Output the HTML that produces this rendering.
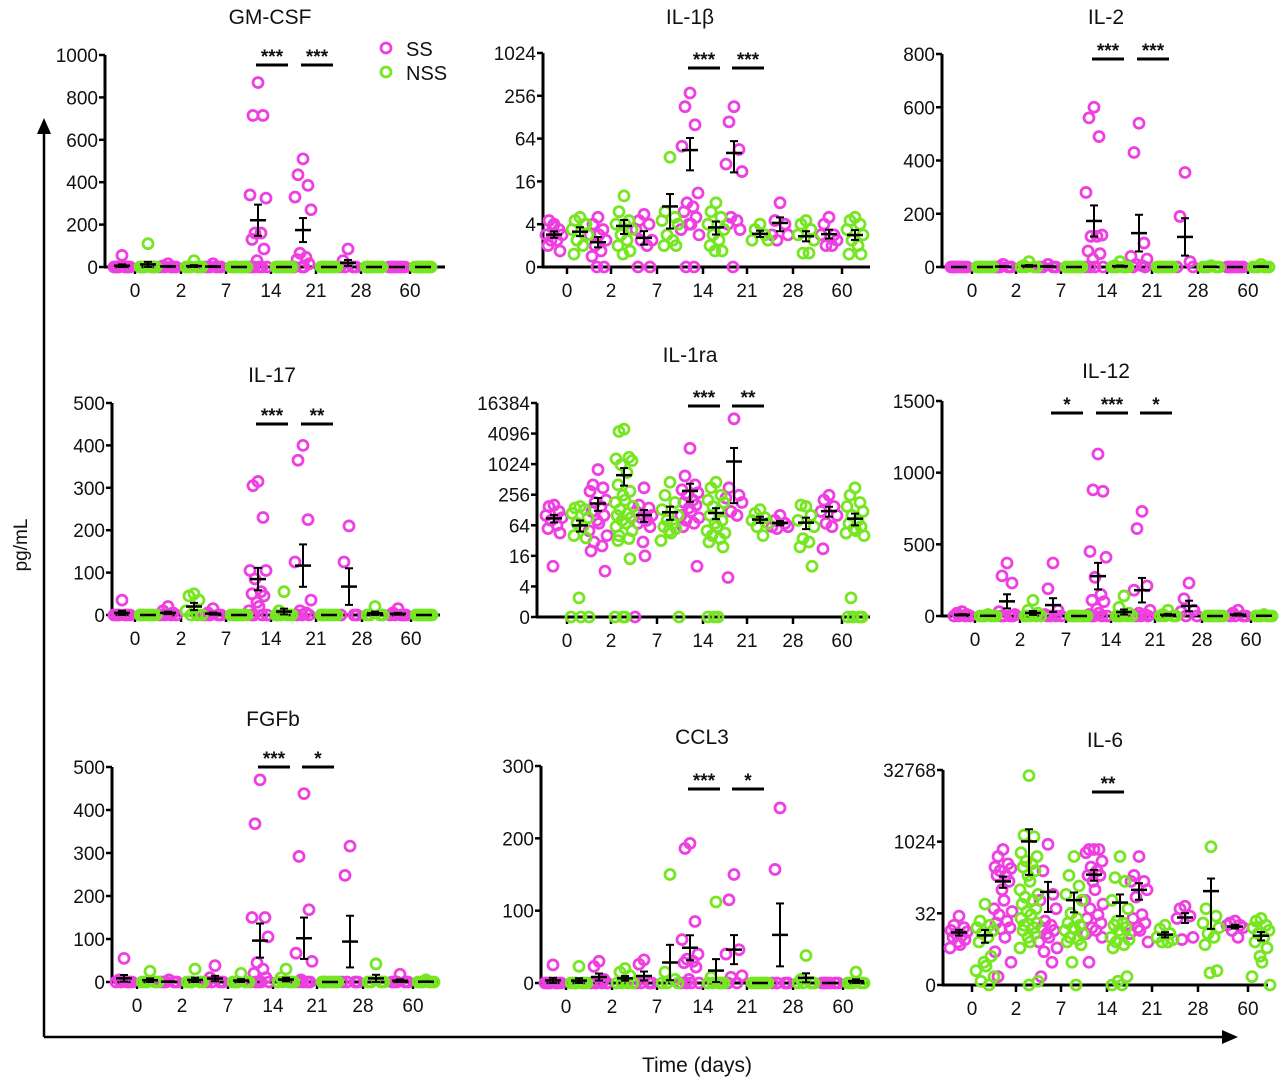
<!DOCTYPE html>
<html><head><meta charset="utf-8"><style>
html,body{margin:0;padding:0;background:#fff;}
svg text{font-family:"Liberation Sans",sans-serif;fill:#111;}
</style></head><body>
<svg id="chart" xmlns="http://www.w3.org/2000/svg" width="1280" height="1085" viewBox="0 0 1280 1085">
<defs><marker id="arr" markerUnits="userSpaceOnUse" markerWidth="16" markerHeight="14" refX="2" refY="7" orient="auto"><path d="M0,0 L16,7 L0,14 z" fill="#000"/></marker></defs>
<line x1="44" y1="1037" x2="44" y2="132" stroke="#000" stroke-width="2.5" marker-end="url(#arr)"/>
<line x1="44" y1="1037" x2="1224" y2="1037" stroke="#000" stroke-width="2.5" marker-end="url(#arr)"/>
<text x="0" y="0" font-size="19" text-anchor="middle" transform="translate(27,545) rotate(-90)">pg/mL</text>
<text x="697" y="1072" font-size="21" text-anchor="middle">Time (days)</text>
<g>
<circle cx="386" cy="48" r="5" fill="none" stroke="#ee3fe0" stroke-width="2.8"/>
<text x="406" y="56" font-size="20">SS</text>
<circle cx="386" cy="72" r="5" fill="none" stroke="#77e622" stroke-width="2.8"/>
<text x="406" y="80" font-size="20">NSS</text>
</g>
</svg>
<script>
const days = ["0","2","7","14","21","28","60"];

const gmcsfSS = [[55,0,0,0,0,0,0,0,0],[15,5,0,0,0,0,0],[15,0,0,0,0,0,0],[870,715,715,340,325,160,160,130,85,30,0,0,0,0,0,0],[510,435,385,330,270,65,45,35,15,0,0,0],[85,30,0,0,0,0],[0,0,0,0,0,0,0,0]];
const gmcsfNSS = [[110,0,0,0,0,0,0,0,0],[30,0,0,0,0,0,0],[0,0,0,0,0,0,0,0],[0,0,0,0,0,0,0,0,0,0],[0,0,0,0,0,0,0,0],[0,0,0,0,0,0,0,0],[0,0,0,0,0,0,0,0,0,0]];
const il1bSS = [[4,4.5,3.5,3,3,2.5,2.5,2,1.5,3.8],[5,4,3.5,3,2.5,2,1.5,1,0,0,3],[5.5,4.5,4,3.5,2.5,2.5,2,0,0],[280,180,100,50,11,8,7,6,5,4,4,3.5,3,0,0],[180,110,45,28,22,5,4.5,4,3.5,0],[8,4.5,4,3,3,2.5],[5,4,3,3,2.5,2,2]];
const il1bNSS = [[5,4.5,4,3.5,3,2.5,2,1.2,4],[10,6,4.5,4,3.5,3,2.5,2,1.5,1.2,4],[35,6,5,4.5,4,3,2.5,2,2],[8,6,5,4,3.5,3,2.5,2,1.5,1.5],[4,3.5,3,2.5,2.5],[4.5,4,3.5,3,2.5,1.3,1.3],[5,4.5,4,3.5,3,2.5,2,1.2,1.2]];
const il2SS = [[0,0,0,0,0,0,0,0],[10,0,0,0,0,0],[10,0,0,0,0],[600,560,490,280,120,115,115,60,50,30,0,0,0,0],[540,430,90,40,30,10,5,0,0],[355,190,20,0,0],[0,0,0,0,0,0,0,0]];
const il2NSS = [[0,0,0,0,0,0,0,0],[20,5,0,0,0,0],[0,0,0,0,0,0,0],[20,5,0,0,0,0,0,0],[0,0,0,0,0,0,0,0],[5,0,0,0,0,0],[10,0,0,0,0,0,0]];
const il17SS = [[35,0,0,0,0,0,0],[20,10,5,0,0,0,0],[15,5,0,0,0,0],[315,305,230,105,105,85,55,50,45,30,20,10,0,0,0,0],[400,365,225,125,35,10,5,0,0,0],[210,125,0,0,0],[15,5,0,0,0,0,0]];
const il17NSS = [[0,0,0,0,0,0,0,0],[50,45,35,10,0,0,0],[0,0,0,0,0,0,0,0],[55,10,0,0,0,0,0,0],[0,0,0,0,0,0,0,0],[20,0,0,0,0],[0,0,0,0,0,0,0,0,0]];
const il1raSS = [[160,150,120,100,90,80,65,55,45,10],[800,400,350,300,200,180,150,120,100,80,70,50,40,30,25,20,8],[350,160,140,120,100,90,80,70,60,30,16,0],[2100,600,400,320,280,250,200,180,160,140,120,100,90,80,70,60,10],[8000,350,250,220,180,120,100,6],[100,80,70,60,60,55],[250,200,150,120,100,70,60,22]];
const il1raNSS = [[150,140,130,110,90,70,60,40,36,2.5,0,0,0],[5000,4500,1400,1300,1200,1000,700,400,300,250,200,180,150,130,110,100,90,80,70,60,50,40,35,32,14,0,0,0],[450,250,180,130,100,80,70,60,55,50,45,32,0],[450,350,250,200,180,150,120,100,80,70,60,50,45,40,35,30,24,0,0,0],[130,110,90,80,70,60,40],[150,160,100,80,60,35,30,24,10],[350,250,180,150,120,100,80,70,60,55,50,45,40,2.5,0,0,0,0]];
const il12SS = [[30,20,10,0,0,0,0],[370,280,230,30,10,0,0,0,0],[370,190,40,10,0,0,0,0],[1130,880,870,450,410,270,150,110,100,50,20,10,0,0,0,0],[730,610,210,180,40,20,10,0,0,0],[230,120,40,30,0,0],[40,20,0,0,0,0]];
const il12NSS = [[10,0,0,0,0,0,0],[110,40,20,0,0,0,0,0],[0,0,0,0,0,0,0,0],[140,60,20,0,0,0,0,0],[40,10,0,0,0,0],[0,0,0,0,0,0,0,0],[10,0,0,0,0,0,0]];
const fgfbSS = [[55,5,0,0,0,0,0],[5,0,0,0,0,0],[38,10,0,0,0,0],[470,368,150,150,105,45,30,20,10,0,0,0,0,0],[438,292,168,67,48,5,0,0,0,0],[316,248,0,0,0,0],[18,0,0,0,0,0]];
const fgfbNSS = [[25,0,0,0,0,0],[30,0,0,0,0,0],[20,0,0,0,0,0],[30,10,0,0,0,0,0],[0,0,0,0,0,0,0,0],[42,0,0,0,0],[5,0,0,0,0,0,0]];
const ccl3SS = [[25,0,0,0,0,0,0],[30,23,5,0,0,0,0],[32,26,0,0,0,0],[193,186,85,60,40,33,30,28,22,5,0,0,0,0],[150,115,46,40,10,8,0,0],[242,157,0,0,0,0],[0,0,0,0,0,0]];
const ccl3NSS = [[23,0,0,0,0,0,0],[20,15,10,0,0,0,0],[150,15,5,0,0,0],[112,8,0,0,0,0,0],[0,0,0,0,0,0,0],[38,5,0,0,0,0],[15,0,0,0,0,0]];
const il6SS = [[28,18,16,14,13,12,11,10,9,8,7,6],[700,500,350,300,280,250,200,200,150,100,60,40,35,30,22,20,16,15,10,5,3,1.5],[900,250,80,60,40,22,18,16,14,12,10,8,6,5,3,1.5],[700,700,700,600,400,300,250,200,200,150,100,60,50,40,30,25,20,16,14,12,10,3],[500,200,150,150,100,70,30,25,20,16,14,12,8],[45,40,28,25,10,9],[22,20,18,18,16,14,10]];
const il6NSS = [[50,22,18,16,14,12,10,8,4,3,2.5,2,1.5,1.2,1],[25000,1400,1300,600,500,400,350,300,250,200,150,100,80,70,60,50,40,35,30,25,20,18,16,14,12,10,8,6,1.2,1],[500,200,120,80,60,32,25,20,18,16,15,14,12,10,9,8,7,3,1],[500,180,150,60,40,22,20,18,16,14,12,10,9,8,7,6,1.5,1.2,1,1],[18,15,12,10,9,8,8],[800,40,28,20,16,12,10,7,2,1.8],[25,22,18,16,14,12,10,8,6,4,3,1.5,1]];

const linTicks500 = ["0","100","200","300","400","500"];
const tickGM = ["0","200","400","600","800","1000"];
const tickIL2 = ["0","200","400","600","800"];
const tickIL12 = ["0","500","1000","1500"];
const tickCCL3 = ["0","100","200","300"];
const tickL4a = ["0","4","16","64","256","1024"];
const tickL4b = ["0","4","16","64","256","1024","4096","16384"];
const tickL32 = ["0","32","1024","32768"];

const panels = [
 {name:"gm-csf",title:"GM-CSF",tx:270,ty:24,ax:105,top:55,bot:267,xe:445,cats:[135,181,226,271,316,361,410],scale:"lin",max:1000,ticks:tickGM,ss:gmcsfSS,nss:gmcsfNSS,sig:[[3,"***"],[4,"***"]],sy:65},
 {name:"il-1b",title:"IL-1β",tx:690,ty:24,ax:543,top:53,bot:267,xe:870,cats:[567,611,657,703,747,793,842],scale:"log",base:4,lo:4,max:5,ticks:tickL4a,ss:il1bSS,nss:il1bNSS,sig:[[3,"***"],[4,"***"]],sy:68},
 {name:"il-2",title:"IL-2",tx:1106,ty:24,ax:942,top:54,bot:267,xe:1268,cats:[972,1016,1061,1107,1152,1198,1248],scale:"lin",max:800,ticks:tickIL2,ss:il2SS,nss:il2NSS,sig:[[3,"***"],[4,"***"]],sy:59},
 {name:"il-17",title:"IL-17",tx:272,ty:382,ax:112,top:403,bot:615,xe:440,cats:[135,181,226,271,316,362,411],scale:"lin",max:500,ticks:linTicks500,ss:il17SS,nss:il17NSS,sig:[[3,"***"],[4,"**"]],sy:424},
 {name:"il-1ra",title:"IL-1ra",tx:690,ty:362,ax:537,top:403,bot:617,xe:870,cats:[567,611,657,703,747,793,842],scale:"log",base:4,lo:4,max:7,ticks:tickL4b,ss:il1raSS,nss:il1raNSS,sig:[[3,"***"],[4,"**"]],sy:406},
 {name:"il-12",title:"IL-12",tx:1106,ty:378,ax:942,top:401,bot:616,xe:1268,cats:[975,1020,1066,1111,1155,1202,1251],scale:"lin",max:1500,ticks:tickIL12,ss:il12SS,nss:il12NSS,sig:[[2,"*"],[3,"***"],[4,"*"]],sy:413},
 {name:"fgfb",title:"FGFb",tx:273,ty:726,ax:112,top:767,bot:982,xe:440,cats:[137,182,228,273,317,363,413],scale:"lin",max:500,ticks:linTicks500,ss:fgfbSS,nss:fgfbNSS,sig:[[3,"***"],[4,"*"]],sy:767},
 {name:"ccl3",title:"CCL3",tx:702,ty:744,ax:541,top:766,bot:983,xe:870,cats:[566,612,657,703,747,793,843],scale:"lin",max:300,ticks:tickCCL3,ss:ccl3SS,nss:ccl3NSS,sig:[[3,"***"],[4,"*"]],sy:789},
 {name:"il-6",title:"IL-6",tx:1105,ty:747,ax:943,top:770,bot:985,xe:1268,cats:[972,1016,1061,1107,1152,1198,1248],scale:"log",base:32,lo:1,max:3,ticks:tickL32,ss:il6SS,nss:il6NSS,sig:[[3,"**"]],sy:792}
];

const NS="http://www.w3.org/2000/svg";
const svg=document.getElementById('chart');
function mk(tag,attrs,parent){const e=document.createElementNS(NS,tag);for(const k in attrs)e.setAttribute(k,attrs[k]);(parent||svg).appendChild(e);return e;}
const jit=[0,-5,5,-8,8,-3,3,-6,6,-1,1,-9,9,-4,4,-7,7,-2,2,-8,8,-5,5,-6,6,-1,1,-9,9,0];

panels.forEach(p=>{
  const g=mk('g',{});
  
  
  function pos(v){
    if(p.scale==="lin") return v/p.max;
    let u;
    if(p.lo===1){u = v<=1?0:Math.log(v)/Math.log(p.base);}
    else {u = v<=0?0:(v<p.lo? v/p.lo : 1+Math.log(v/p.lo)/Math.log(p.base));}
    return u/p.max;
  }
  function y(v){return p.bot-(p.bot-p.top)*Math.max(0,pos(v));}
  const t=mk('text',{x:p.tx,y:p.ty,'font-size':21,'text-anchor':'middle'},g);
  t.textContent=p.title;
  
  
  const ya=mk('line',{x1:p.ax,y1:p.top,x2:p.ax,y2:p.bot+1,stroke:'#000','stroke-width':3},g);
  
  
  const nT=p.ticks.length;
  p.ticks.forEach((lab,i)=>{
    const ty=p.bot-(p.bot-p.top)*i/(nT-1);
    mk('line',{x1:p.ax-6,y1:ty,x2:p.ax,y2:ty,stroke:'#000','stroke-width':2.5},g);
    const tl=mk('text',{x:p.ax-7,y:ty+7,'font-size':19,'text-anchor':'end'},g);
    tl.textContent=lab;
    
    
  });
  const xa=mk('line',{x1:p.ax-1,y1:p.bot,x2:p.xe,y2:p.bot,stroke:'#000','stroke-width':3},g);
  
  
  p.cats.forEach((cx,i)=>{
    mk('line',{x1:cx,y1:p.bot,x2:cx,y2:p.bot+7,stroke:'#000','stroke-width':2.5},g);
    const xl=mk('text',{x:cx,y:p.bot+30,'font-size':19,'text-anchor':'middle'},g);
    xl.textContent=days[i];
    
    
  });
  [[p.ss,'#ee3fe0',-13,'ss'],[p.nss,'#77e622',13,'nss']].forEach(([data,col,off,key])=>{
    data.forEach((vals,di)=>{
      const c=p.cats[di]+off;
      vals.forEach((v,k)=>{
        const pt=mk('circle',{cx:c+jit[k%jit.length],cy:y(v),r:5,fill:'none',stroke:col,'stroke-width':2.8},g);
        
        
      });
    });
  });
  [[p.ss,-13,'ss'],[p.nss,13,'nss']].forEach(([data,off,key])=>{
    data.forEach((vals,di)=>{
      const c=p.cats[di]+off, n=vals.length;
      const m=vals.reduce((a,b)=>a+b,0)/n;
      const sd=Math.sqrt(vals.reduce((a,b)=>a+(b-m)*(b-m),0)/(n-1));
      const se=sd/Math.sqrt(n);
      const eg=mk('g',{},g);
      
      
      mk('line',{x1:c-8,y1:y(m),x2:c+8,y2:y(m),stroke:'#000','stroke-width':2.5},eg);
      if(se>0){
        const y1=y(m+se), y0=y(Math.max(0,m-se));
        mk('line',{x1:c,y1:y1,x2:c,y2:y0,stroke:'#000','stroke-width':2},eg);
        mk('line',{x1:c-4,y1:y1,x2:c+4,y2:y1,stroke:'#000','stroke-width':2},eg);
        mk('line',{x1:c-4,y1:y0,x2:c+4,y2:y0,stroke:'#000','stroke-width':2},eg);
      }
    });
  });
  p.sig.forEach(([di,s])=>{
    const c=p.cats[di];
    const sg=mk('g',{},g);
    
    
    mk('line',{x1:c-15,y1:p.sy,x2:c+17,y2:p.sy,stroke:'#000','stroke-width':3},sg);
    const st=mk('text',{x:c+1,y:p.sy-2,'font-size':19,'font-weight':'bold','text-anchor':'middle'},sg);
    st.textContent=s;
  });
});
</script>
</body></html>
